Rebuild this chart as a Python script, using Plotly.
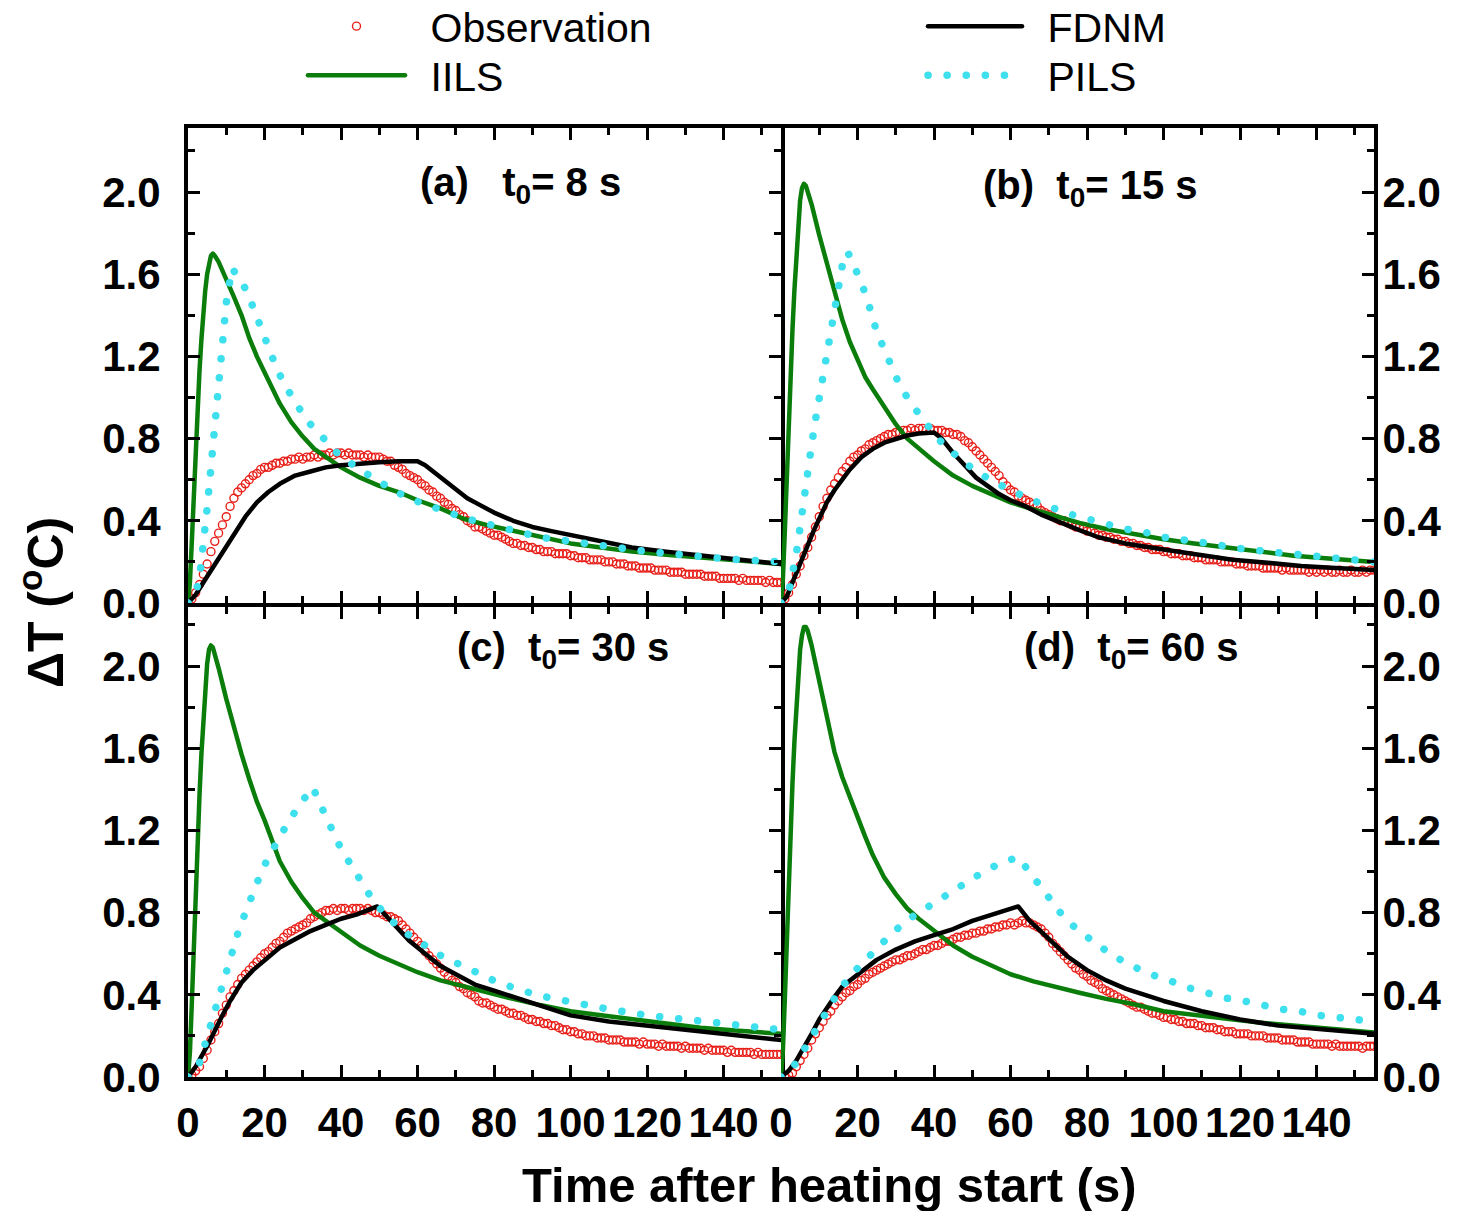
import plotly.graph_objects as go

# ---------------- data ----------------
T_OBS = list(range(0, 156))

OBS_A = [0.00,0.02,0.05,0.09,0.14,0.19,0.25,0.30,0.34,0.38,
         0.42,0.47,0.51,0.54,0.56,0.58,0.60,0.62,0.63,0.65,
         0.66,0.66,0.67,0.68,0.68,0.69,0.69,0.70,0.70,0.71,
         0.70,0.71,0.71,0.72,0.71,0.72,0.72,0.73,0.72,0.73,
         0.73,0.72,0.73,0.72,0.72,0.72,0.71,0.72,0.71,0.71,
         0.71,0.70,0.69,0.69,0.67,0.66,0.65,0.63,0.62,0.61,
         0.60,0.58,0.57,0.55,0.54,0.52,0.51,0.49,0.48,0.46,
         0.45,0.43,0.42,0.40,0.39,0.37,0.37,0.36,0.35,0.34,
         0.33,0.33,0.32,0.31,0.30,0.29,0.29,0.28,0.28,0.27,
         0.27,0.26,0.26,0.25,0.25,0.25,0.24,0.24,0.24,0.24,
         0.23,0.23,0.22,0.22,0.22,0.21,0.21,0.21,0.21,0.20,
         0.20,0.20,0.19,0.19,0.19,0.18,0.18,0.18,0.17,0.17,
         0.17,0.17,0.16,0.16,0.16,0.16,0.15,0.15,0.15,0.15,
         0.14,0.14,0.14,0.14,0.14,0.13,0.13,0.13,0.13,0.12,
         0.12,0.12,0.12,0.12,0.11,0.12,0.11,0.11,0.11,0.11,
         0.11,0.10,0.11,0.10,0.10,0.10]

OBS_B = [0.00,0.02,0.05,0.09,0.14,0.18,0.23,0.27,0.32,0.37,
         0.42,0.47,0.51,0.55,0.58,0.61,0.64,0.66,0.69,0.71,
         0.72,0.74,0.75,0.77,0.78,0.79,0.80,0.81,0.82,0.82,
         0.83,0.83,0.84,0.84,0.85,0.84,0.85,0.85,0.84,0.85,
         0.84,0.84,0.84,0.83,0.83,0.82,0.82,0.81,0.79,0.78,
         0.76,0.74,0.72,0.70,0.68,0.66,0.64,0.62,0.59,0.57,
         0.55,0.54,0.52,0.51,0.50,0.49,0.48,0.47,0.45,0.44,
         0.43,0.42,0.41,0.40,0.40,0.39,0.38,0.37,0.37,0.36,
         0.35,0.35,0.34,0.33,0.33,0.32,0.32,0.31,0.31,0.30,
         0.30,0.29,0.29,0.28,0.28,0.27,0.27,0.26,0.26,0.26,
         0.25,0.25,0.24,0.24,0.24,0.23,0.23,0.23,0.22,0.22,
         0.22,0.21,0.21,0.21,0.21,0.20,0.20,0.20,0.20,0.19,
         0.19,0.19,0.18,0.18,0.18,0.18,0.17,0.17,0.17,0.17,
         0.17,0.16,0.17,0.16,0.16,0.16,0.16,0.16,0.15,0.16,
         0.15,0.16,0.15,0.16,0.15,0.15,0.16,0.15,0.15,0.16,
         0.15,0.15,0.16,0.15,0.16,0.16]

OBS_C = [0.00,0.01,0.03,0.05,0.09,0.13,0.18,0.22,0.26,0.31,
         0.35,0.39,0.42,0.45,0.48,0.50,0.52,0.54,0.56,0.58,
         0.60,0.61,0.63,0.65,0.66,0.68,0.70,0.71,0.72,0.73,
         0.74,0.75,0.77,0.78,0.79,0.80,0.81,0.81,0.82,0.81,
         0.82,0.82,0.81,0.82,0.82,0.82,0.81,0.82,0.81,0.80,
         0.80,0.79,0.78,0.78,0.77,0.76,0.74,0.72,0.70,0.68,
         0.66,0.64,0.61,0.59,0.57,0.55,0.53,0.51,0.49,0.47,
         0.46,0.44,0.43,0.41,0.40,0.39,0.37,0.36,0.36,0.35,
         0.34,0.33,0.33,0.32,0.31,0.31,0.30,0.30,0.29,0.28,
         0.28,0.27,0.27,0.26,0.26,0.25,0.25,0.24,0.23,0.23,
         0.22,0.22,0.21,0.21,0.20,0.20,0.20,0.19,0.19,0.19,
         0.18,0.18,0.18,0.18,0.17,0.17,0.17,0.17,0.16,0.17,
         0.16,0.16,0.16,0.15,0.16,0.15,0.15,0.15,0.15,0.14,
         0.15,0.14,0.14,0.14,0.14,0.13,0.14,0.13,0.13,0.13,
         0.13,0.12,0.13,0.12,0.12,0.12,0.12,0.12,0.11,0.12,
         0.11,0.11,0.11,0.11,0.11,0.11]

OBS_D = [0.00,0.00,0.01,0.02,0.05,0.08,0.11,0.14,0.18,0.21,
         0.24,0.27,0.30,0.32,0.35,0.37,0.39,0.41,0.42,0.44,
         0.45,0.47,0.48,0.50,0.51,0.52,0.53,0.54,0.55,0.56,
         0.57,0.57,0.58,0.59,0.59,0.60,0.61,0.62,0.62,0.63,
         0.64,0.64,0.65,0.66,0.66,0.67,0.68,0.68,0.69,0.69,
         0.70,0.70,0.71,0.71,0.72,0.72,0.73,0.73,0.74,0.74,
         0.75,0.74,0.75,0.76,0.75,0.75,0.74,0.73,0.72,0.70,
         0.68,0.65,0.63,0.61,0.59,0.57,0.55,0.53,0.52,0.50,
         0.49,0.47,0.46,0.45,0.43,0.42,0.41,0.40,0.39,0.38,
         0.37,0.36,0.35,0.34,0.34,0.33,0.32,0.31,0.31,0.30,
         0.29,0.29,0.28,0.28,0.27,0.27,0.26,0.26,0.26,0.25,
         0.25,0.24,0.24,0.24,0.23,0.23,0.22,0.22,0.22,0.21,
         0.21,0.21,0.21,0.20,0.20,0.20,0.20,0.19,0.19,0.19,
         0.19,0.18,0.18,0.18,0.18,0.17,0.17,0.17,0.17,0.16,
         0.16,0.16,0.16,0.16,0.15,0.16,0.15,0.15,0.15,0.15,
         0.15,0.15,0.14,0.15,0.15,0.15]

# IILS (shared time grid)
T_IILS = [0,0.5,1,1.5,2,2.5,3,3.5,4,4.5,5,5.5,6,6.5,7,8,10,12,14,16,
          18,20,22,24,27,30,33,36,40,45,50,55,60,66,72,78,85,92,100,108,
          116,125,134,144,155]
IILS_A = [0,0.10,0.30,0.52,0.75,0.95,1.13,1.28,1.42,1.52,1.60,1.66,1.69,1.70,1.69,1.66,1.58,1.49,1.40,1.29,
          1.20,1.12,1.04,0.97,0.88,0.81,0.75,0.71,0.66,0.61,0.57,0.54,0.50,0.46,0.41,0.38,0.35,0.32,0.29,0.27,
          0.25,0.235,0.22,0.205,0.19]
IILS_B = [0,0.12,0.35,0.62,0.88,1.12,1.33,1.52,1.70,1.85,1.96,2.02,2.04,2.03,2.00,1.94,1.79,1.65,1.51,1.38,
          1.27,1.18,1.10,1.04,0.95,0.87,0.80,0.75,0.69,0.62,0.57,0.53,0.49,0.455,0.42,0.39,0.36,0.335,0.31,0.29,
          0.27,0.25,0.23,0.215,0.20]
IILS_C = [0,0.12,0.36,0.64,0.90,1.15,1.37,1.57,1.75,1.90,2.01,2.08,2.10,2.09,2.06,1.99,1.84,1.70,1.57,1.45,
          1.34,1.25,1.15,1.05,0.95,0.87,0.80,0.76,0.70,0.64,0.59,0.55,0.51,0.47,0.44,0.41,0.38,0.35,0.32,0.30,
          0.28,0.26,0.24,0.225,0.21]
IILS_D = [0,0.13,0.38,0.67,0.95,1.20,1.43,1.63,1.81,1.96,2.08,2.15,2.19,2.19,2.17,2.10,1.92,1.74,1.58,1.46,
          1.36,1.27,1.17,1.08,0.97,0.89,0.82,0.77,0.71,0.64,0.585,0.54,0.50,0.465,0.44,0.41,0.38,0.355,0.32,0.30,
          0.285,0.265,0.25,0.235,0.216]

# FDNM
FDNM_A_T = [0,2,4,6,8,10,12,15,18,21,24,28,32,36,40,45,50,55,60,62,
            64,66,68,70,73,76,80,85,90,95,100,108,116,125,134,142,150,155]
FDNM_A = [0,0.04,0.10,0.16,0.22,0.28,0.34,0.42,0.49,0.54,0.58,0.62,0.64,0.66,0.67,0.68,0.685,0.69,0.69,0.67,
          0.64,0.61,0.58,0.55,0.51,0.48,0.44,0.40,0.37,0.35,0.33,0.30,0.27,0.25,0.23,0.215,0.20,0.19]
FDNM_B_T = [0,1.5,3,5,7,8.5,10,12,14,16,18,21,24,27,30,33,36,39,40,42,
            45,48,51,54,57,60,64,68,73,78,83,90,100,110,118,128,136,145,155]
FDNM_B = [0,0.03,0.10,0.19,0.29,0.35,0.41,0.49,0.55,0.60,0.65,0.71,0.75,0.78,0.80,0.815,0.825,0.83,0.83,0.80,
          0.73,0.67,0.61,0.57,0.53,0.50,0.47,0.43,0.39,0.355,0.32,0.29,0.26,0.23,0.21,0.195,0.18,0.17,0.16]
FDNM_C_T = [0,2,5,7,9,11,14,17,20,24,28,32,36,40,44,47,49.5,52,55,58,
            62,66,70,75,80,85,90,95,100,110,120,130,140,150,155]
FDNM_C = [0,0.05,0.15,0.23,0.30,0.37,0.46,0.52,0.57,0.63,0.67,0.71,0.74,0.77,0.79,0.81,0.83,0.78,0.72,0.66,
          0.60,0.54,0.50,0.45,0.42,0.39,0.36,0.33,0.30,0.27,0.25,0.23,0.21,0.19,0.18]
FDNM_D_T = [0,2,4,6,8,10,12,14,16,18,20,25,30,35,40,45,50,55,58,62,
            65,70,75,80,85,90,95,100,110,120,130,140,150,155]
FDNM_D = [0,0.03,0.08,0.14,0.21,0.28,0.34,0.39,0.44,0.47,0.50,0.57,0.62,0.66,0.69,0.72,0.76,0.79,0.81,0.83,
          0.76,0.67,0.585,0.52,0.47,0.43,0.40,0.37,0.32,0.28,0.25,0.235,0.22,0.21]

# PILS
PILS_A_T = [0,1,2,3,4,5,6,7,8,9,10,11.5,13,15,17,19,21,23,25,28,
            31,35,39,44,49,54,59,64,69,74,80,86,92,98,104,110,118,126,134,142,150,155]
PILS_A = [0,0.02,0.05,0.12,0.27,0.46,0.66,0.88,1.08,1.28,1.46,1.63,1.59,1.53,1.44,1.34,1.25,1.15,1.07,0.98,
          0.89,0.81,0.73,0.66,0.60,0.545,0.50,0.465,0.435,0.405,0.375,0.345,0.32,0.305,0.29,0.27,0.255,0.24,0.225,0.213,
          0.205,0.20]
PILS_B_T = [0,1,2,3,4,5,6,7,8,9,10,11,12,13,14,15,16,17.4,19,21,
            23,25,28,31,34,37,41,45,50,55,60,65,70,75,80,85,90,95,100,110,120,130,140,150,155]
PILS_B = [0,0.01,0.05,0.14,0.24,0.37,0.52,0.64,0.77,0.89,1.00,1.13,1.23,1.35,1.46,1.56,1.64,1.71,1.65,1.56,
          1.45,1.32,1.19,1.06,0.97,0.90,0.80,0.73,0.655,0.595,0.545,0.505,0.47,0.435,0.41,0.385,0.36,0.345,0.32,0.295,
          0.265,0.245,0.225,0.21,0.20]
PILS_C_T = [0,1,2,3,4.4,6,7.3,8.5,10,11.7,13.2,15,16.8,18.8,21,23.6,26.2,29,32.6,34.5,
            37,39.2,42,45,48,52,57,62,67,72,76,81,86,91,96,101,110,120,130,140,150,155]
PILS_C = [0,0.01,0.03,0.07,0.16,0.25,0.35,0.43,0.52,0.61,0.71,0.80,0.89,0.98,1.07,1.16,1.24,1.32,1.41,1.33,
          1.23,1.14,1.05,0.96,0.87,0.78,0.70,0.64,0.58,0.54,0.50,0.46,0.43,0.40,0.38,0.36,0.33,0.30,0.28,0.26,
          0.24,0.23]
PILS_D_T = [0,1,2,4,6.5,9.3,12.2,15.5,19,23.5,28,32.7,37.5,42.5,47.5,52.2,57.2,62,65.7,69.2,
            73,77.2,82,86.8,91.8,96.5,101.5,106.3,111.2,116,121,125.8,130.8,135.5,140.5,145.5,150.2,155]
PILS_D = [0,0.01,0.02,0.07,0.15,0.24,0.34,0.43,0.51,0.60,0.68,0.76,0.82,0.88,0.935,0.99,1.04,1.07,0.98,0.89,
          0.80,0.72,0.65,0.59,0.54,0.50,0.47,0.435,0.41,0.385,0.37,0.35,0.33,0.32,0.30,0.29,0.28,0.27]

PANEL_LABELS = ["(a)\u00a0\u00a0\u00a0t<sub>0</sub>= 8 s", "(b)\u00a0\u00a0t<sub>0</sub>= 15 s",
                "(c)\u00a0\u00a0t<sub>0</sub>= 30 s", "(d)\u00a0\u00a0t<sub>0</sub>= 60 s"]
SERIES_NAMES = ["Observation", "IILS", "FDNM", "PILS"]
X_TITLE = "Time after heating start (s)"
Y_TITLE = "\u0394T (<sup>o</sup>C)"

# ---------------- styling ----------------
W, H = 1470, 1211
FONT = "Liberation Sans, Arial, sans-serif"
RED, GREEN, BLACK, CYAN = "#e8201a", "#0a7d0a", "#000000", "#3ee0ee"

XL, XM, XR = 188 / W, 781 / W, 1374 / W
YT, YM, YB = 1 - 128 / H, 1 - 603 / H, 1 - 1077 / H
YM2 = 1 - 607 / H           # top of lower panels (shared border line overlaps)
PX_PER_UNIT = 205.5
Y_TOP_RANGE = (603 - 128) / PX_PER_UNIT
Y_BOT_RANGE = (1077 - 607) / PX_PER_UNIT

# legend slots: (legend id, left x px, top y px, item width)
LEG = {"legend": (303, -7, 97), "legend3": (303, 42, 97),
       "legend2": (923, -7, 94), "legend4": (923, 42, 94)}
LEG_OF = ["legend", "legend3", "legend2", "legend4"]

panels = [
    dict(xa="x", ya="y", obs=OBS_A, iils=IILS_A, ft=FDNM_A_T, f=FDNM_A, pt=PILS_A_T, p=PILS_A),
    dict(xa="x2", ya="y2", obs=OBS_B, iils=IILS_B, ft=FDNM_B_T, f=FDNM_B, pt=PILS_B_T, p=PILS_B),
    dict(xa="x3", ya="y3", obs=OBS_C, iils=IILS_C, ft=FDNM_C_T, f=FDNM_C, pt=PILS_C_T, p=PILS_C),
    dict(xa="x4", ya="y4", obs=OBS_D, iils=IILS_D, ft=FDNM_D_T, f=FDNM_D, pt=PILS_D_T, p=PILS_D),
]

SP = "\u2002"
fig = go.Figure()
for i, pn in enumerate(panels):
    first = i == 0
    fig.add_trace(go.Scatter(x=T_OBS, y=pn["obs"], xaxis=pn["xa"], yaxis=pn["ya"], mode="markers",
                             name=SP + SERIES_NAMES[0], showlegend=first, legend=LEG_OF[0],
                             marker=dict(symbol="circle-open", size=8, color=RED, line=dict(width=1.4, color=RED))))
    fig.add_trace(go.Scatter(x=T_IILS, y=pn["iils"], xaxis=pn["xa"], yaxis=pn["ya"], mode="lines",
                             name=SP + SERIES_NAMES[1], showlegend=first, legend=LEG_OF[1],
                             line=dict(color=GREEN, width=4.5)))
    fig.add_trace(go.Scatter(x=pn["ft"], y=pn["f"], xaxis=pn["xa"], yaxis=pn["ya"], mode="lines",
                             name=SP + SERIES_NAMES[2], showlegend=first, legend=LEG_OF[2],
                             line=dict(color=BLACK, width=4.5)))
    fig.add_trace(go.Scatter(x=pn["pt"], y=pn["p"], xaxis=pn["xa"], yaxis=pn["ya"], mode="lines",
                             name=SP + SERIES_NAMES[3], showlegend=first, legend=LEG_OF[3],
                             line=dict(color=CYAN, width=7.5, dash="0.1px,19px")))

tickfont = dict(family=FONT, size=42, color="black", weight="bold")


def xax(domain, anchor, labels):
    return dict(domain=domain, anchor=anchor, range=[0, 155], tick0=0, dtick=20,
                ticks="inside", ticklen=12, tickwidth=3, tickcolor="black",
                minor=dict(dtick=10, ticks="inside", ticklen=7, tickwidth=3, tickcolor="black"),
                showline=True, linewidth=4, linecolor="black", mirror="allticks",
                showgrid=False, zeroline=False, showticklabels=labels,
                tickfont=tickfont, ticklabelstandoff=6, automargin=False)


def yax(domain, anchor, side, top):
    return dict(domain=domain, anchor=anchor, range=[0, top], tick0=0, dtick=0.4, tickformat=".1f",
                ticks="inside", ticklen=12, tickwidth=3, tickcolor="black",
                minor=dict(dtick=0.2, ticks="inside", ticklen=7, tickwidth=3, tickcolor="black"),
                showline=True, linewidth=4, linecolor="black",
                mirror="allticks" if side == "left" else False, side=side,
                showgrid=False, zeroline=False, showticklabels=True,
                tickfont=tickfont, ticklabelstandoff=15 if side == "left" else -4, automargin=False)


annotations = []
label_pos = [(520, 185), (1090, 188), (563, 650), (1131, 650)]
for txt, (px, py) in zip(PANEL_LABELS, label_pos):
    annotations.append(dict(text=txt, x=px / W, y=1 - py / H, xref="paper", yref="paper",
                            showarrow=False, xanchor="center", yanchor="middle",
                            font=dict(family=FONT, size=40, color="black", weight="bold")))
annotations.append(dict(text=X_TITLE, x=829 / W, y=1 - 1185 / H, xref="paper", yref="paper",
                        showarrow=False, xanchor="center", yanchor="middle",
                        font=dict(family=FONT, size=49, color="black", weight="bold")))
annotations.append(dict(text=Y_TITLE, x=42 / W, y=1 - 603 / H, xref="paper", yref="paper",
                        showarrow=False, xanchor="center", yanchor="middle", textangle=-90,
                        font=dict(family=FONT, size=50, color="black", weight="bold")))

legfont = dict(family=FONT, size=41, color="black")
legends = {}
for key, (lx, ly, iw) in LEG.items():
    legends[key] = dict(x=lx / W, y=1 - ly / H, xanchor="left", yanchor="top", font=legfont,
                        bgcolor="rgba(0,0,0,0)", itemwidth=iw, traceorder="normal")

fig.update_layout(
    width=W, height=H, margin=dict(l=0, r=0, t=0, b=0, autoexpand=False),
    paper_bgcolor="white", plot_bgcolor="white",
    xaxis=xax([XL, XM], "y", False), yaxis=yax([YM, YT], "x", "left", Y_TOP_RANGE),
    xaxis2=xax([XM, XR], "y2", False), yaxis2=yax([YM, YT], "x2", "right", Y_TOP_RANGE),
    xaxis3=xax([XL, XM], "y3", True), yaxis3=yax([YB, YM2], "x3", "left", Y_BOT_RANGE),
    xaxis4=xax([XM, XR], "y4", True), yaxis4=yax([YB, YM2], "x4", "right", Y_BOT_RANGE),
    annotations=annotations,
    **legends,
)

post = ("var s=document.createElement('style');"
        "s.textContent='path.js-line{stroke-linecap:round;stroke-linejoin:round}';"
        "document.head.appendChild(s);")
fig.write_html("out.html", post_script=post)
